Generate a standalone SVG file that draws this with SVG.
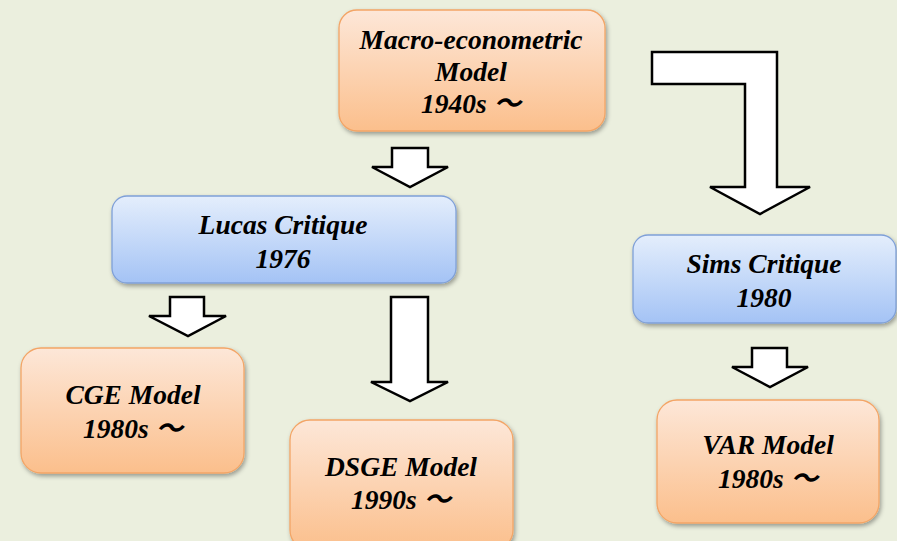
<svg xmlns="http://www.w3.org/2000/svg" width="897" height="541" viewBox="0 0 897 541">
<defs>
<linearGradient id="gOrange" x1="0" y1="0" x2="0" y2="1">
<stop offset="0" stop-color="#FDE7D8"/>
<stop offset="1" stop-color="#FBBF8C"/>
</linearGradient>
<linearGradient id="gBlue" x1="0" y1="0" x2="0" y2="1">
<stop offset="0" stop-color="#E4EEFC"/>
<stop offset="1" stop-color="#A4C3F5"/>
</linearGradient>
<filter id="sh" x="-10%" y="-10%" width="125%" height="130%">
<feDropShadow dx="1.5" dy="2.5" stdDeviation="2" flood-color="#000" flood-opacity="0.35"/>
</filter>
<style>
.o{fill:url(#gOrange);stroke:#F3A566;stroke-width:1.3;filter:url(#sh)}
.b{fill:url(#gBlue);stroke:#7FA0D8;stroke-width:1.3;filter:url(#sh)}
.t{font-family:"Liberation Serif","Times New Roman","Noto Sans CJK JP",serif;font-weight:bold;font-style:italic;font-size:27.5px;fill:#000;text-anchor:middle}
.a{fill:#fff;stroke:#000;stroke-width:2.5;stroke-linejoin:miter}
</style>
</defs>
<rect width="897" height="541" fill="#EBEFDE"/>
<g id="connectors">
<path class="a" d="M392,148 L428,148 L428,167 L448,167 L410,187 L372,167 L392,167 Z"/>
<path class="a" d="M652,52 L777,52 L777,187 L810,187 L760,214 L710,187 L745,187 L745,84 L652,84 Z"/>
<path class="a" d="M170,297 L204,297 L204,316 L226,316 L188,336 L149,316 L170,316 Z"/>
<path class="a" d="M391,297 L428,297 L428,382 L448,382 L410,401 L371,382 L391,382 Z"/>
<path class="a" d="M752,348 L787,348 L787,367 L808,367 L770,387 L732,367 L752,367 Z"/>
</g>
<g id="macro">
<rect class="o" x="339" y="10" width="266" height="121" rx="18"/>
<text class="t" x="471" y="49">Macro-econometric</text>
<text class="t" x="471" y="81">Model</text>
<text class="t" x="471" y="113">1940s ～</text>
</g>
<g id="lucas">
<rect class="b" x="112" y="196" width="344" height="87" rx="15"/>
<text class="t" x="283" y="234">Lucas Critique</text>
<text class="t" x="283" y="268">1976</text>
</g>
<g id="sims">
<rect class="b" x="633" y="235" width="263" height="88" rx="15"/>
<text class="t" x="764" y="273">Sims Critique</text>
<text class="t" x="764" y="307">1980</text>
</g>
<g id="cge">
<rect class="o" x="21" y="348" width="223" height="125" rx="20"/>
<text class="t" x="133" y="404">CGE Model</text>
<text class="t" x="133" y="438">1980s ～</text>
</g>
<g id="dsge">
<rect class="o" x="290" y="420" width="223" height="130" rx="20"/>
<text class="t" x="401" y="476">DSGE Model</text>
<text class="t" x="401" y="509">1990s ～</text>
</g>
<g id="var">
<rect class="o" x="657" y="400" width="222" height="123" rx="20"/>
<text class="t" x="768" y="454">VAR Model</text>
<text class="t" x="768" y="488">1980s ～</text>
</g>
</svg>
